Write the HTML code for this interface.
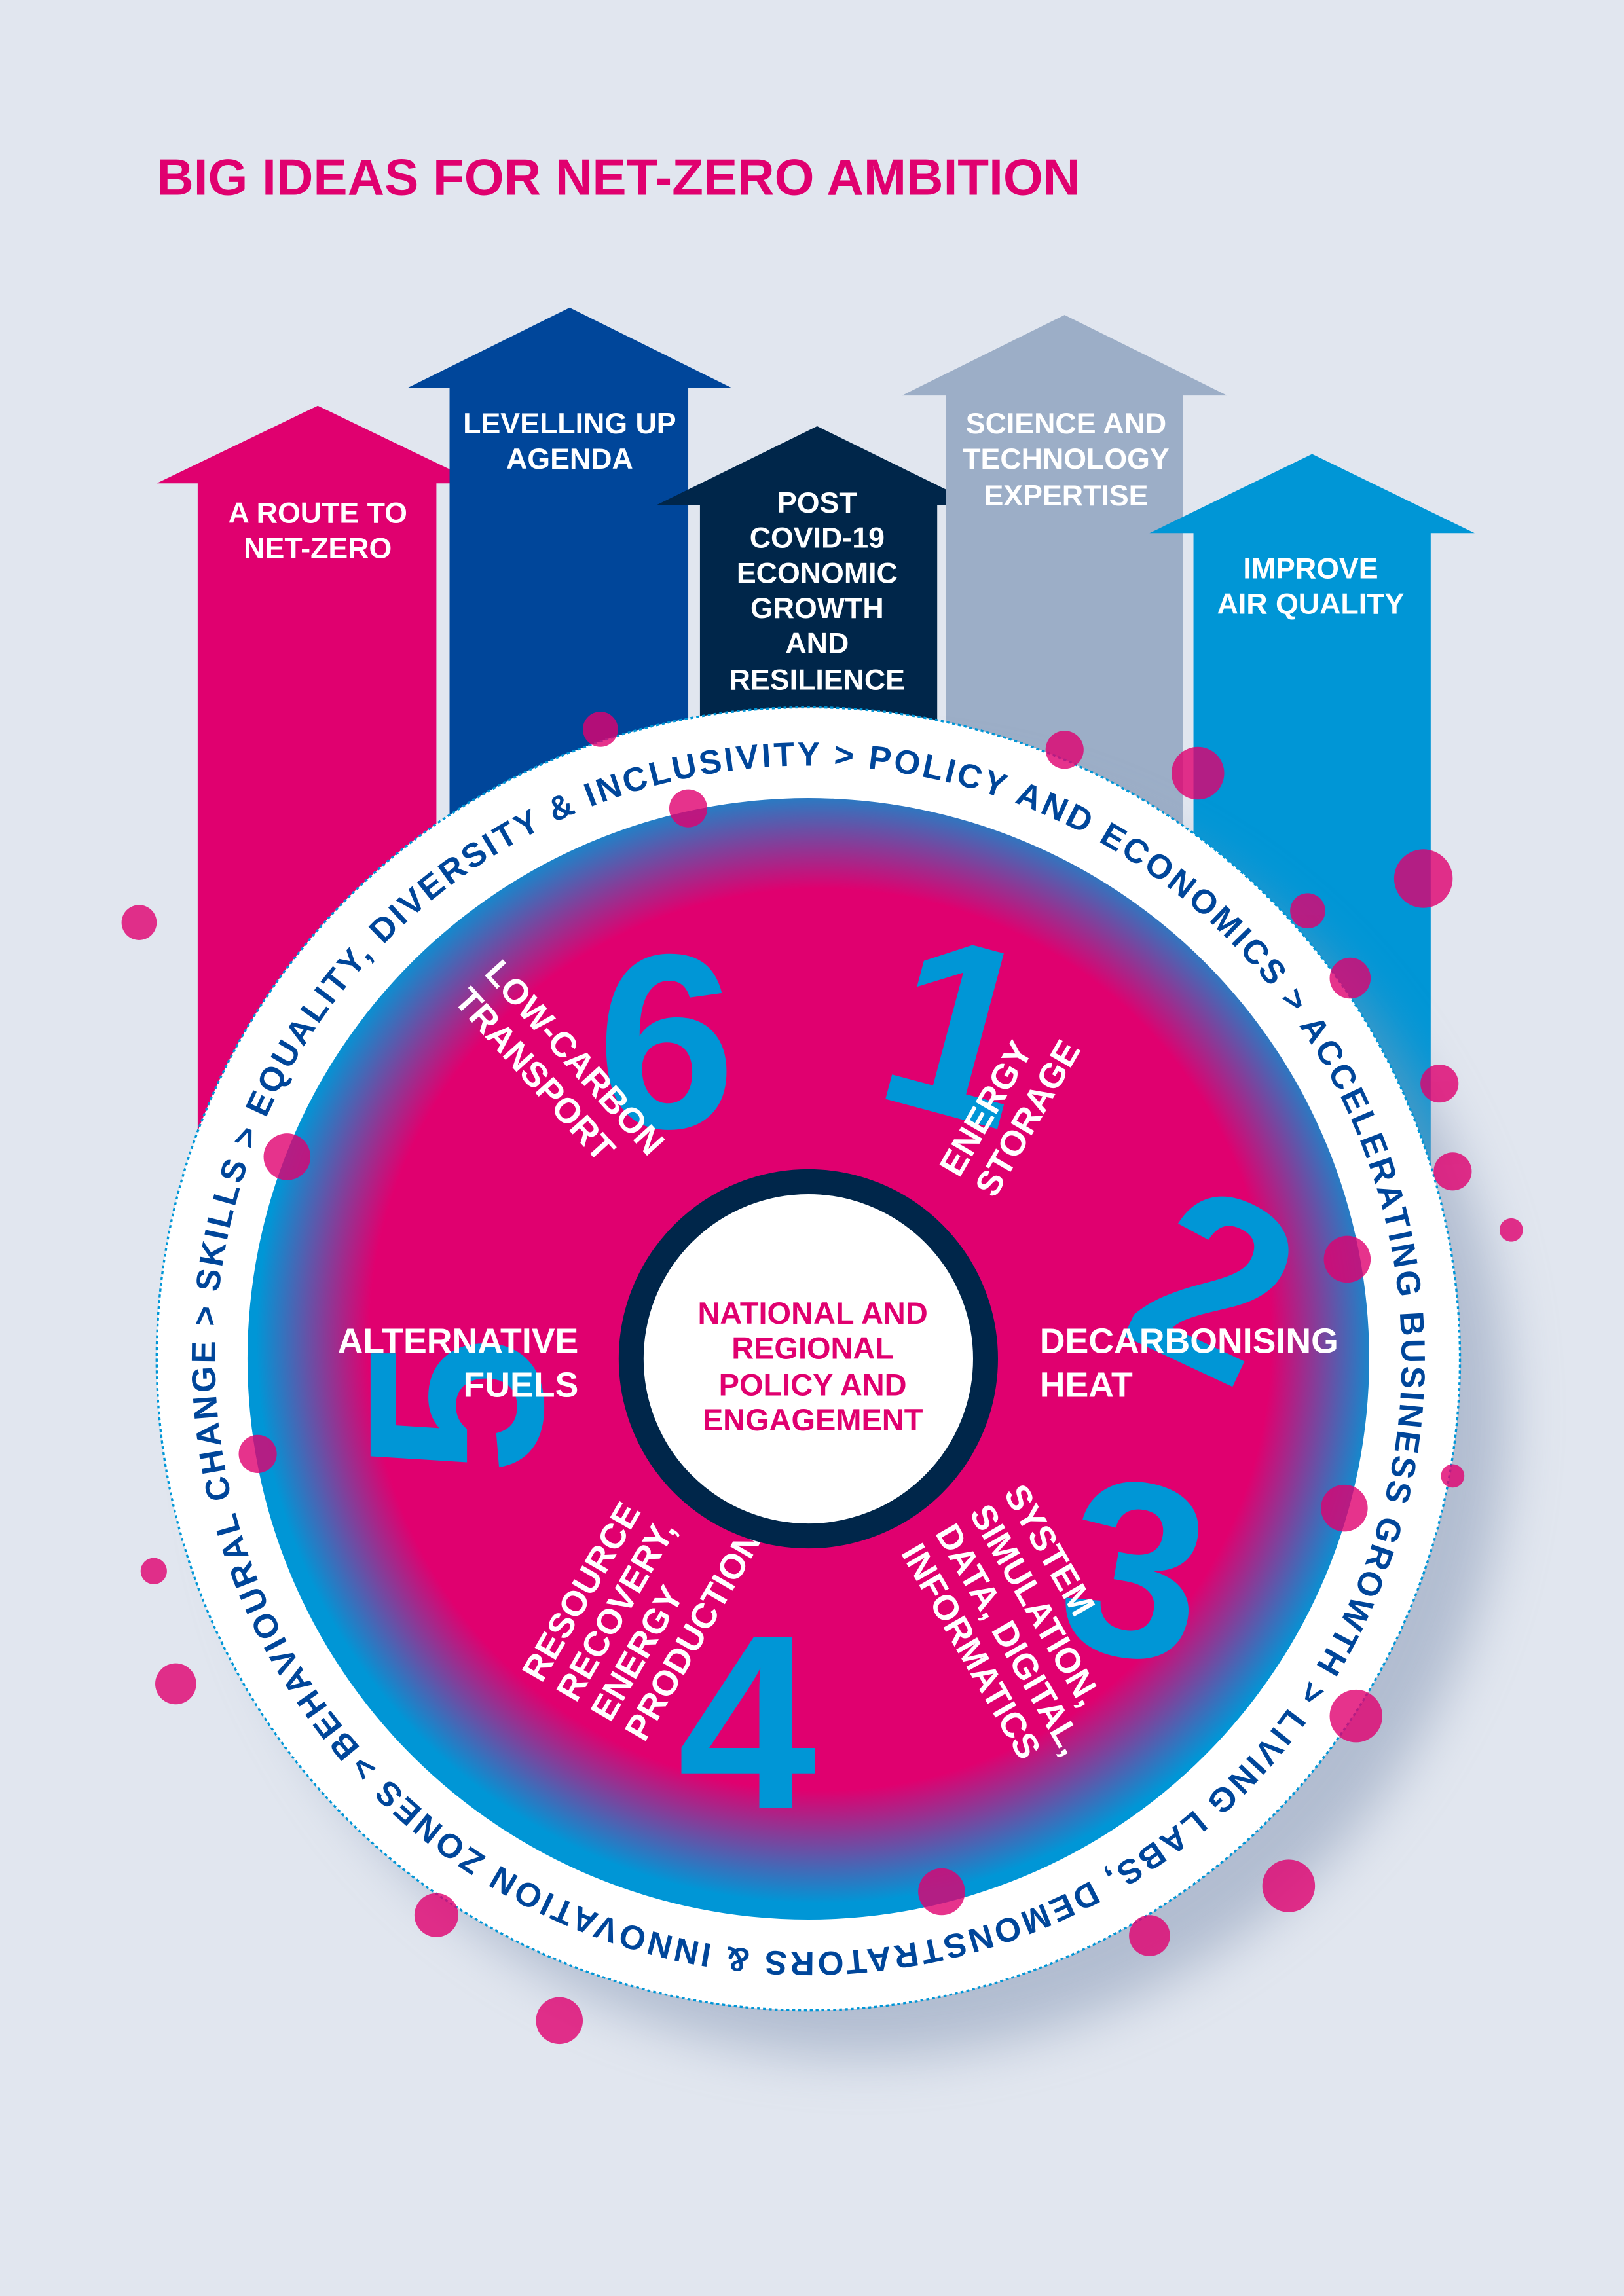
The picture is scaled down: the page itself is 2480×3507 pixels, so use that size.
<!DOCTYPE html>
<html><head><meta charset="utf-8"><style>
html,body{margin:0;padding:0;background:#e1e6ef;}
svg{display:block;}
text{font-family:"Liberation Sans",sans-serif;font-weight:bold;}
</style></head><body>
<svg width="2480" height="3507" viewBox="0 0 1109 1568" xmlns="http://www.w3.org/2000/svg">
<defs>
<radialGradient id="pk" cx="0.5" cy="0.5" r="0.5">
<stop offset="0" stop-color="#e0006f"/>
<stop offset="0.8" stop-color="#e0006f"/>
<stop offset="1" stop-color="#e0006f" stop-opacity="0"/>
</radialGradient>
<clipPath id="inner"><circle cx="552" cy="928" r="383"/></clipPath>
<filter id="bl" x="-20%" y="-20%" width="140%" height="140%"><feGaussianBlur stdDeviation="18"/></filter>
<path id="ring" d="M246.3,1193.7 A405,405 0 1,1 857.7,662.3 A405,405 0 1,1 246.3,1193.7"/>
</defs>
<rect width="1109" height="1568" fill="#e1e6ef"/>
<text x="107" y="133" font-size="35" fill="#e0006f">BIG IDEAS FOR NET-ZERO AMBITION</text>

<polygon points="217,277 327,330 298,330 298,780 135,780 135,330 107,330" fill="#e0006f"/>
<polygon points="389,210 500,265 470,265 470,700 307,700 307,265 278,265" fill="#00469a"/>
<polygon points="558,291 668,345 640,345 640,700 478,700 478,345 448,345" fill="#00264a"/>
<polygon points="727,215 838,270 808,270 808,700 646,700 646,270 616,270" fill="#9caec7"/>
<polygon points="896,310 1007,364 977,364 977,800 815,800 815,364 785,364" fill="#0096d6"/>

<g fill="#fff" font-size="20" text-anchor="middle">
<text x="217" y="357">A ROUTE TO</text><text x="217" y="381">NET-ZERO</text>
<text x="389" y="296">LEVELLING UP</text><text x="389" y="320">AGENDA</text>
<text x="558" y="350">POST</text><text x="558" y="374">COVID-19</text><text x="558" y="398">ECONOMIC</text><text x="558" y="422">GROWTH</text><text x="558" y="446">AND</text><text x="558" y="471">RESILIENCE</text>
<text x="728" y="296">SCIENCE AND</text><text x="728" y="320">TECHNOLOGY</text><text x="728" y="345">EXPERTISE</text>
<text x="895" y="395">IMPROVE</text><text x="895" y="419">AIR QUALITY</text>
</g>

<circle cx="590" cy="965" r="440" fill="#8b9bb8" opacity="0.55" filter="url(#bl)"/>
<circle cx="552" cy="928" r="445" fill="#fff" stroke="#0096d6" stroke-width="1.5" stroke-dasharray="2 2"/>
<circle cx="552" cy="928" r="383" fill="#0096d6"/>
<circle cx="560" cy="915" r="385" fill="url(#pk)" clip-path="url(#inner)"/>

<text font-size="23" fill="#00469a"><textPath href="#ring" textLength="2540" lengthAdjust="spacing">BEHAVIOURAL CHANGE  &gt;  SKILLS  &gt;  EQUALITY, DIVERSITY &amp; INCLUSIVITY  &gt;  POLICY AND ECONOMICS  &gt;  ACCELERATING BUSINESS GROWTH  &gt;  LIVING LABS, DEMONSTRATORS &amp; INNOVATION ZONES  &gt;</textPath></text>

<g fill="#0096d6" font-size="170" text-anchor="middle">
<text x="455" y="770">6</text>
<text transform="translate(640,760) rotate(15)">1</text>
<text transform="translate(805,930) rotate(25)">2</text>
<text transform="translate(765,1130) rotate(10)">3</text>
<text x="510" y="1235">4</text>
<text transform="translate(370,960) rotate(-90)">5</text>
</g>

<g fill="#fff" font-size="24">
<g transform="translate(330,665) rotate(48)"><text x="0" y="0">LOW-CARBON</text><text x="0" y="28">TRANSPORT</text></g>
<g transform="translate(655,805) rotate(-60)"><text x="0" y="0">ENERGY</text><text x="0" y="28">STORAGE</text></g>
<text x="710" y="924">DECARBONISING</text><text x="710" y="954">HEAT</text>
<text x="395" y="924" text-anchor="end">ALTERNATIVE</text><text x="395" y="954" text-anchor="end">FUELS</text>
<g transform="translate(685,1020) rotate(60)"><text x="0" y="0">SYSTEM</text><text x="0" y="27">SIMULATION,</text><text x="0" y="54">DATA, DIGITAL,</text><text x="0" y="81">INFORMATICS</text></g>
<g transform="translate(370,1150) rotate(-60)"><text x="0" y="0">RESOURCE</text><text x="0" y="27">RECOVERY,</text><text x="0" y="54">ENERGY</text><text x="0" y="81">PRODUCTION</text></g>
</g>

<circle cx="552" cy="928" r="121" fill="#fff" stroke="#00264a" stroke-width="17"/>
<g fill="#e0006f" font-size="21" text-anchor="middle">
<text x="555" y="904">NATIONAL AND</text><text x="555" y="928">REGIONAL</text><text x="555" y="953">POLICY AND</text><text x="555" y="977">ENGAGEMENT</text>
</g>

<g fill="#e0006f" opacity="0.8">
<circle cx="95" cy="630" r="12"/><circle cx="105" cy="1073" r="9"/><circle cx="120" cy="1150" r="14"/>
<circle cx="410" cy="498" r="12"/><circle cx="470" cy="552" r="13"/><circle cx="727" cy="512" r="13"/>
<circle cx="818" cy="528" r="18"/><circle cx="972" cy="600" r="20"/><circle cx="893" cy="622" r="12"/>
<circle cx="922" cy="668" r="14"/><circle cx="983" cy="740" r="13"/><circle cx="992" cy="800" r="13"/>
<circle cx="1032" cy="840" r="8"/><circle cx="920" cy="860" r="16"/><circle cx="918" cy="1030" r="16"/>
<circle cx="992" cy="1008" r="8"/><circle cx="926" cy="1172" r="18"/><circle cx="880" cy="1288" r="18"/>
<circle cx="785" cy="1322" r="14"/><circle cx="643" cy="1292" r="16"/><circle cx="298" cy="1308" r="15"/>
<circle cx="382" cy="1380" r="16"/><circle cx="176" cy="993" r="13"/><circle cx="196" cy="790" r="16"/>
</g>
</svg>
</body></html>
